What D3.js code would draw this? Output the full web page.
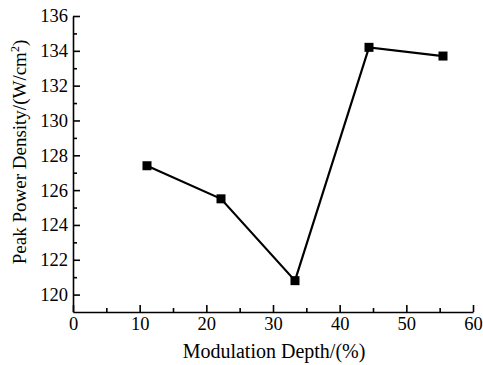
<!DOCTYPE html>
<html>
<head>
<meta charset="utf-8">
<script src="https://cdn.jsdelivr.net/npm/d3@7"></script>
<style>
  html, body { margin: 0; padding: 0; background: #fff; }
  svg { display: block; }
</style>
</head>
<body>
<svg id="chart" width="483" height="365"></svg>
<script>
// Modulation depth (%) and measured peak power density (W/cm²)
const modulationDepth = [11.1, 22.2, 33.3, 44.4, 55.5];
const peakPowerDensity = [127.4, 125.5, 120.8, 134.2, 133.7];
const xTicks = [0, 10, 20, 30, 40, 50, 60];
const yTicks = [120, 122, 124, 126, 128, 130, 132, 134, 136];

const FONT = "'Liberation Serif', Times, 'Times New Roman', 'DejaVu Serif', serif";

const svg = d3.select("#chart");

const x = d3.scaleLinear().domain([0, 60]).range([73, 473]);
const y = d3.scaleLinear().domain([119, 136]).range([312, 16]);

function styleAxis(g) {
  g.attr("font-family", FONT).attr("font-size", 18.5);
  g.selectAll("text").style("font-family", FONT).style("font-size", "18.5px").attr("fill", "#000");
  g.selectAll("path, line").attr("stroke", "#000").attr("stroke-width", 1.6);
}

// minor ticks (inward, no labels)
svg.append("g")
  .attr("transform", `translate(0,${y(119)})`)
  .call(d3.axisBottom(x).tickValues(d3.range(5, 60, 10)).tickSize(-4).tickSizeOuter(0).tickFormat(""))
  .call(styleAxis)
  .call(g => g.select(".domain").remove());
svg.append("g")
  .attr("transform", `translate(${x(0)},0)`)
  .call(d3.axisLeft(y).tickValues(d3.range(121, 136, 2)).tickSize(-4).tickSizeOuter(0).tickFormat(""))
  .call(styleAxis)
  .call(g => g.select(".domain").remove());

// major axes, ticks pointing inward
svg.append("g")
  .attr("transform", `translate(0,${y(119)})`)
  .call(d3.axisBottom(x).tickValues(xTicks).tickSize(-7).tickSizeOuter(0).tickPadding(4).tickFormat(d3.format("d")))
  .call(styleAxis)
  .call(g => g.selectAll("text").attr("dy", "0.75em"));

svg.append("g")
  .attr("transform", `translate(${x(0)},0)`)
  .call(d3.axisLeft(y).tickValues(yTicks).tickSize(-7).tickSizeOuter(0).tickPadding(5).tickFormat(d3.format("d")))
  .call(styleAxis);

// data line and square markers
const pts = modulationDepth.map((d, i) => [d, peakPowerDensity[i]]);
svg.append("path")
  .datum(pts)
  .attr("fill", "none")
  .attr("stroke", "#000")
  .attr("stroke-width", 2.2)
  .attr("d", d3.line().x(d => x(d[0])).y(d => y(d[1])));

const s = 9;
svg.selectAll("rect.pt").data(pts).join("rect")
  .attr("class", "pt")
  .attr("x", d => x(d[0]) - s / 2)
  .attr("y", d => y(d[1]) - s / 2)
  .attr("width", s).attr("height", s)
  .attr("fill", "#000");

// axis titles
svg.append("text")
  .style("font-family", FONT).style("font-size", "20px")
  .attr("x", 274).attr("y", 358)
  .attr("text-anchor", "middle")
  .text("Modulation Depth/(%)");

const yl = svg.append("text")
  .style("font-family", FONT).style("font-size", "19px")
  .attr("transform", "translate(26,152) rotate(-90)")
  .attr("text-anchor", "middle");
yl.append("tspan").text("Peak Power Density/(W/cm");
yl.append("tspan").attr("dy", -7).style("font-size", "12px").text("2");
yl.append("tspan").attr("dy", 7).text(")");
</script>
</body>
</html>
